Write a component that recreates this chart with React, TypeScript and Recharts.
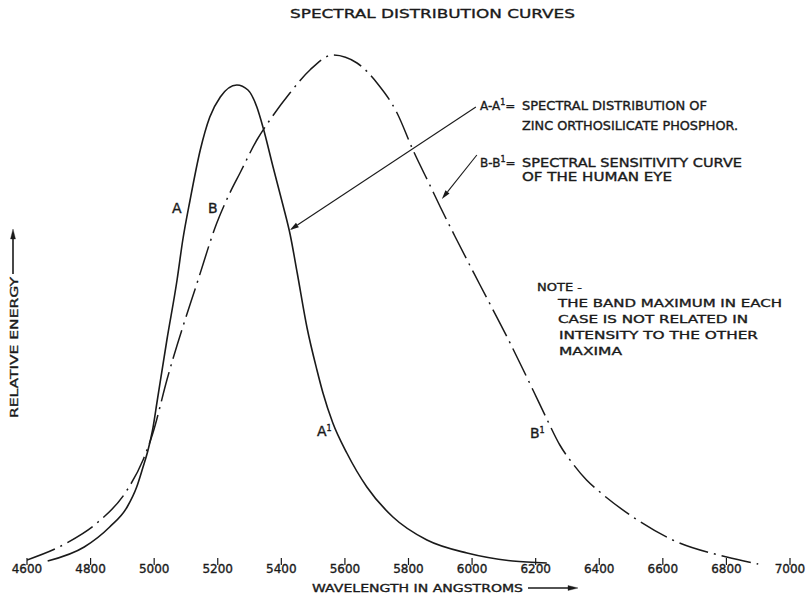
import React from 'react';
import { LineChart, Line, XAxis, YAxis, ReferenceLine } from 'recharts';

// ---- data ----
const wavelengthTicks = [4600, 4800, 5000, 5200, 5400, 5600, 5800, 6000, 6200, 6400, 6600, 6800, 7000];
const tickLabels = ['4600', '4800', '5000', '5200', '5400', '5600', '5800', '6000', '6200', '6400', '6600', '6800', '7000'];

// Curve A - A1 : zinc orthosilicate phosphor
const phosphorWavelength = [4665, 4780, 4860, 4915, 4945, 4965, 4980, 4995, 5010, 5040, 5072, 5090, 5113, 5145, 5175, 5208, 5260, 5295, 5323, 5343, 5374, 5405, 5428, 5450, 5481, 5512, 5531, 5562, 5606, 5669, 5751, 5858, 5984, 6128, 6235];
const phosphorEnergy = [4, 18, 38, 58, 78, 98, 114, 135, 165, 225, 285, 325, 365, 415, 448, 468, 480, 475, 458, 437, 398, 360, 330, 292, 237, 195, 172, 142, 112, 78, 48, 25, 12, 4, 2];

// Curve B - B1 : sensitivity of the human eye
const eyeWavelength = [4600, 4725, 4820, 4915, 4965, 4996, 5040, 5138, 5197, 5238, 5270, 5323, 5364, 5427, 5490, 5562, 5638, 5701, 5764, 5814, 5867, 5900, 5952, 6025, 6110, 6190, 6235, 6276, 6320, 6360, 6402, 6506, 6631, 6801, 6900];
const eyeEnergy = [5, 22, 42, 75, 105, 132, 185, 285, 342, 372, 392, 425, 445, 472, 495, 510, 502, 482, 452, 415, 380, 358, 325, 280, 228, 176, 146, 120, 100, 85, 73, 48, 25, 8, 1];

const phosphorData = phosphorWavelength.map((x, i) => ({ x, y: phosphorEnergy[i] }));
const eyeData = eyeWavelength.map((x, i) => ({ x, y: eyeEnergy[i] }));

// arrows from the legend notes to the curves (data coordinates)
const arrowA = [{ x: 6012, y: 458 }, { x: 5427, y: 335 }];
const arrowB = [{ x: 6015, y: 410 }, { x: 5905, y: 366 }];

const INK = '#1a1a1a';
const FONT = '"DejaVu Sans", "Liberation Sans", sans-serif';
const TXT = { stroke: INK, strokeWidth: 0.35 };

const Tick = (props: any) => {
  const { x, y, payload } = props;
  const i = wavelengthTicks.indexOf(payload.value);
  const label = i >= 0 ? tickLabels[i] : String(payload.value);
  return (
    <g>
      <line x1={x} x2={x} y1={y - 7} y2={y} stroke={INK} strokeWidth={1.2} />
      <text x={x} y={y + 8} textAnchor="middle" fontSize={12} fontFamily={FONT} fill={INK} {...TXT}>
        {label}
      </text>
    </g>
  );
};

const ArrowShape = (props: any) => {
  const { x1, y1, x2, y2 } = props;
  if ([x1, y1, x2, y2].some((v) => typeof v !== 'number' || isNaN(v))) return null;
  const dx = x2 - x1;
  const dy = y2 - y1;
  const len = Math.sqrt(dx * dx + dy * dy) || 1;
  const ux = dx / len;
  const uy = dy / len;
  const hl = 9;
  const hw = 2.6;
  const bx = x2 - ux * hl;
  const by = y2 - uy * hl;
  const pts = `${x2},${y2} ${bx - uy * hw},${by + ux * hw} ${bx + uy * hw},${by - ux * hw}`;
  return (
    <g>
      <line x1={x1} y1={y1} x2={bx} y2={by} stroke={INK} strokeWidth={1.1} />
      <polygon points={pts} fill={INK} />
    </g>
  );
};

const Sup = ({ children }: { children: React.ReactNode }) => (
  <tspan fontSize={8} dy={-5}>{children}</tspan>
);

export default function App() {
  return (
    <div style={{ position: 'absolute', left: 0, top: 0, width: 812, height: 595, background: '#ffffff' }}>
      <LineChart width={812} height={595} margin={{ top: 25, right: 22, bottom: 0, left: 27 }}>
        <XAxis
          type="number"
          dataKey="x"
          domain={[4600, 7000]}
          ticks={wavelengthTicks}
          interval={0}
          axisLine={false}
          tickLine={false}
          tickSize={0}
          tickMargin={0}
          height={30}
          tick={<Tick />}
          allowDataOverflow
        />
        <YAxis type="number" dataKey="y" domain={[0, 540]} hide />
        <Line
          data={phosphorData}
          dataKey="y"
          type="monotone"
          stroke={INK}
          strokeWidth={1.6}
          dot={false}
          isAnimationActive={false}
        />
        <Line
          data={eyeData}
          dataKey="y"
          type="monotone"
          stroke={INK}
          strokeWidth={1.5}
          strokeDasharray="30 6 2 6"
          dot={false}
          isAnimationActive={false}
        />
        <ReferenceLine segment={arrowA} shape={<ArrowShape />} ifOverflow="visible" />
        <ReferenceLine segment={arrowB} shape={<ArrowShape />} ifOverflow="visible" />
      </LineChart>
      <svg
        width={812}
        height={595}
        style={{ position: 'absolute', left: 0, top: 0, pointerEvents: 'none' }}
        fontFamily={FONT}
        fill={INK}
        stroke={INK}
        strokeWidth={0.35}
      >
        <text x={290} y={18} fontSize={13} textLength={285} lengthAdjust="spacingAndGlyphs">
          SPECTRAL DISTRIBUTION CURVES
        </text>

        {/* curve letters */}
        <text x={172} y={213} fontSize={14}>A</text>
        <text x={208} y={213} fontSize={14}>B</text>
        <text x={317} y={436} fontSize={14}>A<Sup>1</Sup></text>
        <text x={530} y={438} fontSize={14}>B<Sup>1</Sup></text>

        {/* legend notes */}
        <text x={480} y={110} fontSize={12}>A-A<Sup>1</Sup><tspan dy={5}>=</tspan></text>
        <text x={522} y={110} fontSize={12} textLength={185} lengthAdjust="spacingAndGlyphs">SPECTRAL DISTRIBUTION OF</text>
        <text x={522} y={130} fontSize={12} textLength={216} lengthAdjust="spacingAndGlyphs">ZINC ORTHOSILICATE PHOSPHOR.</text>
        <text x={480} y={167} fontSize={12}>B-B<Sup>1</Sup><tspan dy={5}>=</tspan></text>
        <text x={522} y={167} fontSize={12} textLength={220} lengthAdjust="spacingAndGlyphs">SPECTRAL SENSITIVITY CURVE</text>
        <text x={522} y={181} fontSize={12} textLength={150} lengthAdjust="spacingAndGlyphs">OF THE HUMAN EYE</text>

        <text x={537} y={291} fontSize={11} textLength={45} lengthAdjust="spacingAndGlyphs">NOTE -</text>
        <text x={558} y={307} fontSize={11} textLength={224} lengthAdjust="spacingAndGlyphs">THE BAND MAXIMUM IN EACH</text>
        <text x={558} y={323} fontSize={11} textLength={190} lengthAdjust="spacingAndGlyphs">CASE IS NOT RELATED IN</text>
        <text x={559} y={339} fontSize={11} textLength={199} lengthAdjust="spacingAndGlyphs">INTENSITY TO THE OTHER</text>
        <text x={559} y={355} fontSize={11} textLength={63} lengthAdjust="spacingAndGlyphs">MAXIMA</text>

        {/* axis titles */}
        <text x={312} y={592} fontSize={11} textLength={211} lengthAdjust="spacingAndGlyphs">WAVELENGTH IN ANGSTROMS</text>
        <line x1={528} y1={588} x2={570} y2={588} stroke={INK} strokeWidth={1.3} />
        <polygon points="578,588 568,585.5 568,590.5" fill={INK} />

        <text
          x={0}
          y={0}
          fontSize={11}
          textLength={141}
          lengthAdjust="spacingAndGlyphs"
          transform="translate(18,418) rotate(-90)"
        >
          RELATIVE ENERGY
        </text>
        <line x1={13} y1={274} x2={13} y2={238} stroke={INK} strokeWidth={1.6} />
        <polygon points="13,229 10.5,239 15.5,239" fill={INK} />
      </svg>
    </div>
  );
}
